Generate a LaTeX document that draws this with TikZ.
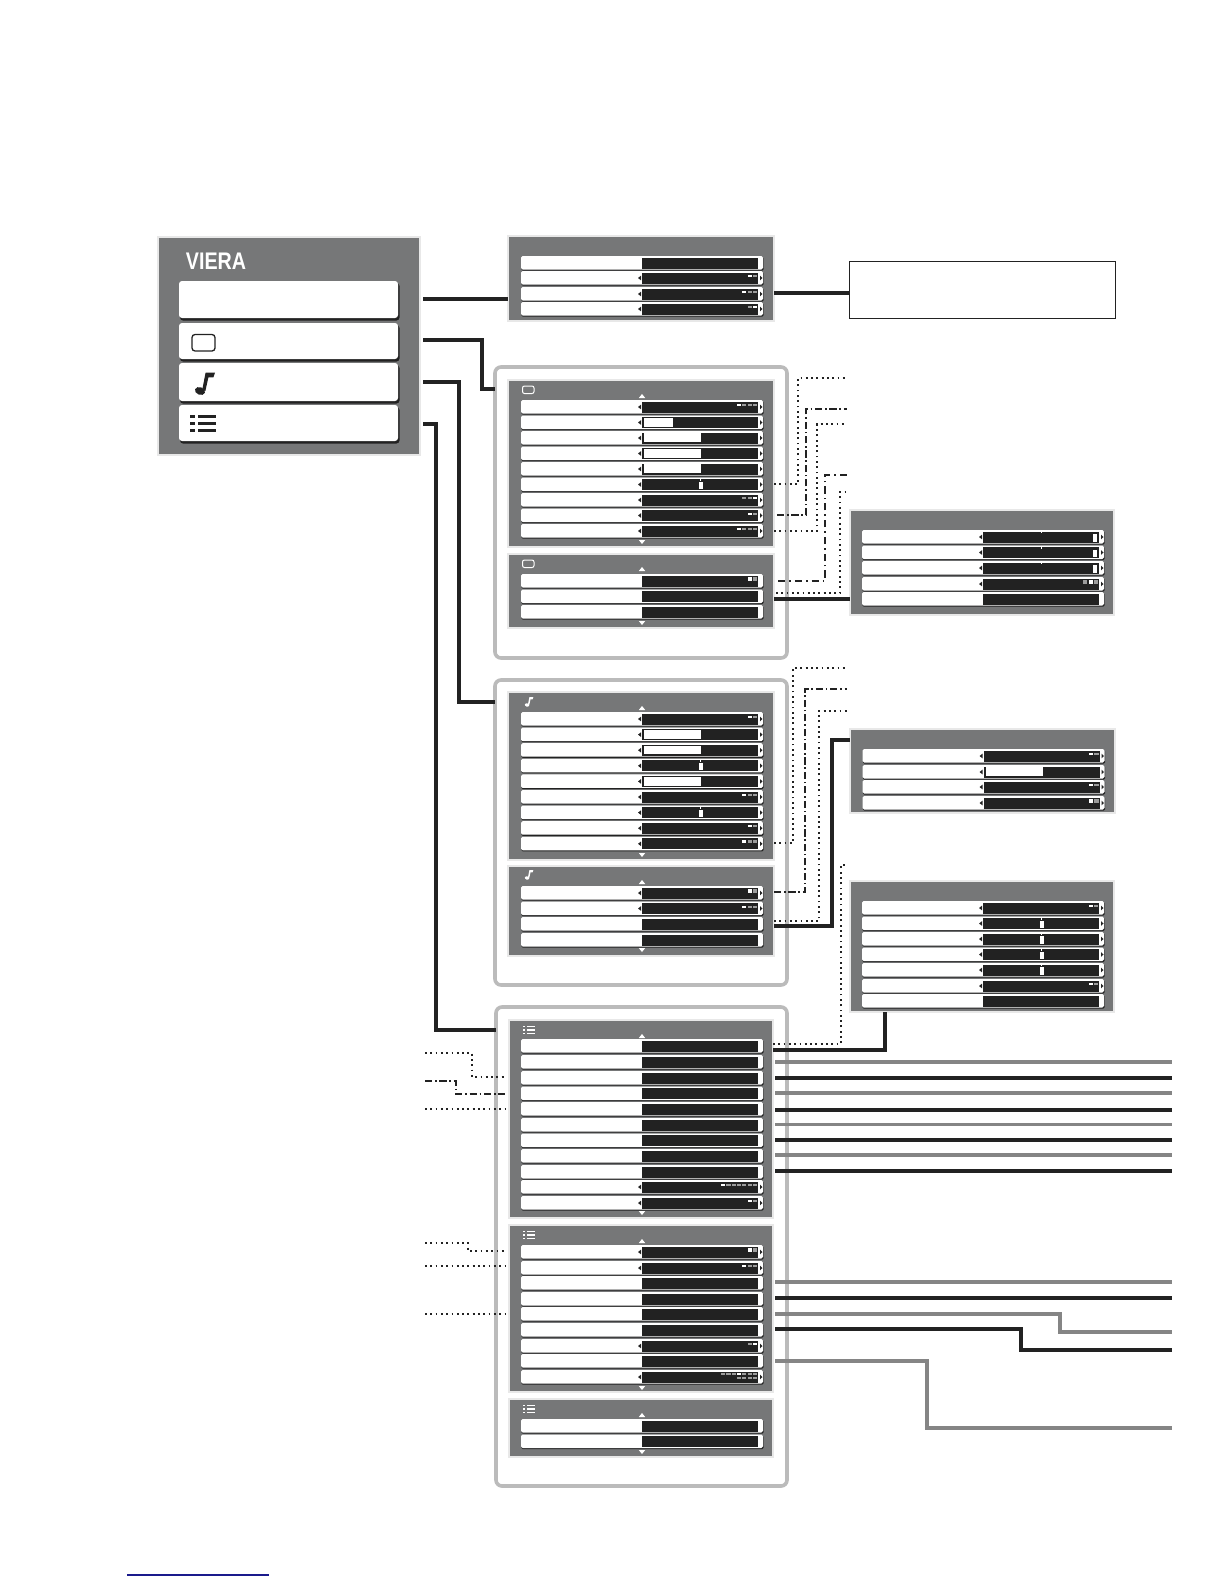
\documentclass[tikz,border=0pt]{standalone}
\usepackage{fontspec}
\setmainfont{Liberation Sans}
\definecolor{ink}{HTML}{222222}
\definecolor{midgray}{HTML}{858585}
\definecolor{panelgray}{HTML}{767778}
\definecolor{halo}{HTML}{E8E8E8}
\definecolor{framegray}{HTML}{BBBBBB}
\definecolor{seggray}{HTML}{9C9C9C}
\definecolor{navyline}{HTML}{1A1A8C}
\tikzset{
  panel/.style={rectangle,fill=panelgray,draw=halo,line width=.6pt,inner sep=0pt,outer sep=0pt},
  frame/.style={rectangle,draw=framegray,fill=white,line width=1.8pt,rounded corners=3pt,inner sep=0pt,outer sep=0pt},
  tboxstyle/.style={rectangle,draw=ink,line width=.45pt,fill=white,inner sep=0pt,outer sep=0pt},
  blackline/.style={draw=ink,line width=1.9pt,line join=miter},
  grayline/.style={draw=midgray,line width=1.9pt,line join=miter},
  dotline/.style={draw=ink,line width=.9pt,dash pattern=on .9pt off 1.75pt},
  dashdotline/.style={draw=ink,line width=1.05pt,dash pattern=on 3.6pt off 1.4pt on .8pt off 1.4pt},
  dashline/.style={draw=ink,line width=1.05pt,dash pattern=on 3.6pt off 2pt on .8pt off 2pt},
}
\newcommand{\PanelAt}[6]{%
  \pgfmathsetmacro\pwd{(#5-#3)*.5}\pgfmathsetmacro\pht{(#6-#4)*.5}%
  \node[#1,minimum width=\pwd pt,minimum height=\pht pt] (#2) at ({(#3+#5)/2},{(#4+#6)/2}) {};}
% a white row with its black field
\newcommand{\RowBox}[2]{%
  \fill[ink,rounded corners=.6pt] (#1+.5,#2+1) rectangle (#1+242.5,#2+14.6);
  \fill[white,rounded corners=.8pt] (#1,#2) rectangle (#1+242,#2+13.5);
  \fill[ink] (#1+121,#2+1.5) rectangle (#1+237,#2+12.5);}
\newcommand{\RowTris}[2]{%
  \fill[ink] (#1+117,#2+7) -- (#1+120,#2+4.7) -- (#1+120,#2+9.3) -- cycle;
  \fill[ink] (#1+241.5,#2+7) -- (#1+239,#2+4.7) -- (#1+239,#2+9.3) -- cycle;}
% n segments, k-th white
\newcommand{\RowInd}[4]{%
  \foreach \i in {1,...,#3}{%
    \pgfmathsetmacro\sx{#1+236-(#3-\i)*5.3-4.2}%
    \pgfmathtruncatemacro\isw{\i==#4 ? 1 : 0}%
    \ifnum\isw=1 \fill[white] (\sx,#2+4) rectangle (\sx+4.2,#2+6);
    \else \fill[seggray] (\sx,#2+4) rectangle (\sx+4.2,#2+6); \fi}}
\newcommand{\RowIndT}[4]{%
  \foreach \i in {1,...,#3}{%
    \pgfmathsetmacro\sx{#1+236-(#3-\i)*5.3-4.2}%
    \pgfmathtruncatemacro\isw{\i==#4 ? 1 : 0}%
    \ifnum\isw=1 \fill[white] (\sx,#2+3.3) rectangle (\sx+4.2,#2+6.5);
    \else \fill[seggray] (\sx,#2+3.3) rectangle (\sx+4.2,#2+6.5); \fi}}
\newcommand{\RowBar}[3]{\fill[white] (#1+123,#2+2.4) rectangle (#1+123+#3,#2+11.2);}
\newcommand{\RowMark}[2]{%
  \fill[white] (#1+177.5,#2+4) rectangle (#1+181.5,#2+11.5);
  \fill[white] (#1+179.2,#2+1.5) rectangle (#1+180,#2+3);}
\newcommand{\RowEnd}[2]{%
  \fill[white] (#1+231,#2+4) rectangle (#1+235,#2+11.5);
  \fill[white] (#1+179.2,#2+1.5) rectangle (#1+180,#2+3);}
\newcommand{\UpTri}[2]{\fill[white] (#1-3.2,#2+2) -- (#1+3.2,#2+2) -- (#1,#2-2) -- cycle;}
\newcommand{\DownTri}[2]{\fill[white] (#1-3.2,#2-2) -- (#1+3.2,#2-2) -- (#1,#2+2) -- cycle;}
\newcommand{\NoteIcon}[4]{%
  \begin{scope}[shift={(#1,#2)},scale=#3]
    \fill[#4,rotate=-20] (0,0) ellipse [x radius=5.2,y radius=3.8];
    \fill[#4] (2.2,-1) -- (5.6,-18.5) -- (15,-18.5) -- (13.4,-13.7) -- (8.4,-13.7) -- (5.4,0) -- cycle;
  \end{scope}}
\newcommand{\ListIcon}[4]{%
  \begin{scope}[shift={(#1,#2)},scale=#3]
    \foreach \yy in {0,7,14}{%
      \fill[#4] (0,\yy) rectangle (5,\yy+2.5);
      \fill[#4] (8,\yy) rectangle (26,\yy+2.5);}
  \end{scope}}
\begin{document}
\begin{tikzpicture}[x=.5pt,y=-.5pt]
\useasboundingbox (0,0) rectangle (1224,1584);
\fill[white] (0,0) rectangle (1224,1584);

% ---------- main menu
\PanelAt{panel}{menu}{158}{237}{420}{455}
\node[text=white,font=\bfseries\fontsize{12}{12}\selectfont,inner sep=0pt,xscale=.82] (logo) at (216,261) {VIERA};
\foreach \ya/\yb in {281/318,323/359,363/401,405/441}{%
  \fill[ink,rounded corners=1.5pt] (180,\ya+2) rectangle (399.5,\yb+2.5);
  \fill[white,rounded corners=1.5pt] (179,\ya) rectangle (398,\yb);}
\draw[ink,line width=.65pt,rounded corners=1.5pt] (192,334.5) rectangle (215,351);
\NoteIcon{200}{391}{1}{ink}
\ListIcon{190}{415}{1}{ink}

% ---------- framed groups
\PanelAt{frame}{boxB}{495}{367}{787}{658}
\PanelAt{frame}{boxC}{495}{680}{787}{985}
\PanelAt{frame}{boxD}{496}{1007}{787}{1486}

% ---------- panels
\PanelAt{panel}{pA}{508}{236}{774}{321}
\PanelAt{panel}{pBa}{508}{380}{774}{547}
\PanelAt{panel}{pBb}{508}{554}{774}{628}
\PanelAt{panel}{pCa}{508}{692}{774}{860}
\PanelAt{panel}{pCb}{508}{866}{774}{956}
\PanelAt{panel}{pDa}{509}{1020}{773}{1218}
\PanelAt{panel}{pDb}{509}{1225}{773}{1392}
\PanelAt{panel}{pDc}{509}{1399}{773}{1457}
\PanelAt{panel}{pE}{850}{510}{1114}{615}
\PanelAt{panel}{pF}{850}{729}{1115}{813}
\PanelAt{panel}{pG}{850}{881}{1114}{1012}
\PanelAt{tboxstyle}{tbox}{849}{261}{1115}{318}

% panel A
\foreach \yy in {256,271,287,302}{\RowBox{521}{\yy}}
\foreach \yy in {271,287,302}{\RowTris{521}{\yy}}
\RowInd{521}{271}{2}{1}\RowInd{521}{287}{3}{1}\RowInd{521}{302}{2}{2}

% panel Ba
\foreach \yy in {400,415.5,431,446.5,462,477.5,493,508.5,524}{\RowBox{521}{\yy}\RowTris{521}{\yy}}
\RowInd{521}{400}{4}{1}
\RowBar{521}{415.5}{29}\RowBar{521}{431}{57}\RowBar{521}{446.5}{57}\RowBar{521}{462}{57}
\RowMark{521}{477.5}\RowInd{521}{493}{3}{3}\RowInd{521}{508.5}{2}{1}\RowInd{521}{524}{4}{1}
\draw[white,line width=.5pt,rounded corners=1pt] (522.5,386) rectangle (534,393.5);
\UpTri{642}{396}\DownTri{642}{542}
% panel Bb
\foreach \yy in {574,589.5,605}{\RowBox{521}{\yy}}
\RowIndT{521}{574}{2}{1}
\draw[white,line width=.5pt,rounded corners=1pt] (522.5,560) rectangle (534,567.5);
\UpTri{642}{569}\DownTri{642}{623}

% panel Ca
\foreach \yy in {712,727.6,743.2,758.8,774.4,790,805.6,821.2,836.8}{\RowBox{521}{\yy}\RowTris{521}{\yy}}
\RowInd{521}{712}{2}{1}\RowBar{521}{727.6}{57}\RowBar{521}{743.2}{57}\RowMark{521}{758.8}
\RowBar{521}{774.4}{57}\RowInd{521}{790}{3}{1}\RowMark{521}{805.6}\RowInd{521}{821.2}{2}{1}\RowIndT{521}{836.8}{3}{1}
\NoteIcon{527}{705}{.42}{white}
\UpTri{642}{708}\DownTri{642}{855}
% panel Cb
\foreach \yy in {886,901.5,917,933}{\RowBox{521}{\yy}}
\foreach \yy in {886,901.5}{\RowTris{521}{\yy}}
\RowIndT{521}{886}{2}{1}\RowInd{521}{901.5}{3}{1}
\NoteIcon{527}{878}{.42}{white}
\UpTri{642}{882}\DownTri{642}{950}

% panel Da
\foreach \yy in {1039,1055,1071,1086.5,1102,1118,1133.5,1149,1165,1180,1196}{\RowBox{521}{\yy}}
\foreach \yy in {1180,1196}{\RowTris{521}{\yy}}
\RowInd{521}{1180}{7}{1}\RowInd{521}{1196}{2}{1}
\ListIcon{523}{1026}{.48}{white}
\UpTri{642}{1036}\DownTri{642}{1213}
% panel Db
\foreach \yy in {1245,1261,1276,1292,1307,1323,1339,1354,1370}{\RowBox{521}{\yy}}
\foreach \yy in {1245,1261,1339,1370}{\RowTris{521}{\yy}}
\RowIndT{521}{1245}{2}{1}\RowInd{521}{1261}{3}{1}\RowInd{521}{1339}{2}{2}
\RowInd{521}{1369}{7}{4}\RowInd{521}{1373}{4}{0}
\ListIcon{523}{1231}{.48}{white}
\UpTri{642}{1241}\DownTri{642}{1388}
% panel Dc
\foreach \yy in {1419,1434.5}{\RowBox{521}{\yy}}
\ListIcon{523}{1405}{.48}{white}
\UpTri{642}{1415}\DownTri{642}{1452}

% panel E
\foreach \yy in {530,545.5,561,577,592}{\RowBox{862}{\yy}}
\foreach \yy in {530,545.5,561,577}{\RowTris{862}{\yy}}
\RowEnd{862}{530}\RowEnd{862}{545.5}\RowEnd{862}{561}\RowIndT{862}{577}{3}{2}
% panel F
\foreach \yy in {749,765,780,796}{\RowBox{862.5}{\yy}\RowTris{862.5}{\yy}}
\RowInd{862.5}{749}{2}{1}\RowBar{862.5}{765}{57}\RowInd{862.5}{780}{2}{1}\RowIndT{862.5}{796}{2}{1}
% panel G
\foreach \yy in {901,916.5,932,947.5,963,979,994}{\RowBox{862}{\yy}}
\foreach \yy in {901,916.5,932,947.5,963,979}{\RowTris{862}{\yy}}
\RowInd{862}{901}{2}{1}\RowMark{862}{916.5}\RowMark{862}{932}\RowMark{862}{947.5}\RowMark{862}{963}\RowInd{862}{979}{2}{1}

% ---------- free ends of connectors
\coordinate (endBa) at (847,378);
\coordinate (endBb) at (847,409);
\coordinate (endBc) at (847,424);
\coordinate (endBd) at (847,475);
\coordinate (endBe) at (847,492);
\coordinate (endCa) at (847,668);
\coordinate (endCb) at (847,689);
\coordinate (endCc) at (847,711);
\coordinate (endCd) at (847,865);
\coordinate (startLa) at (425,1053);
\coordinate (endLa)   at (505,1077);
\coordinate (startLb) at (425,1081);
\coordinate (endLb)   at (505,1094);
\coordinate (startLc) at (425,1109);
\coordinate (endLc)   at (505,1109);
\coordinate (startLd) at (425,1243);
\coordinate (endLd)   at (505,1251);
\coordinate (startLe) at (425,1266);
\coordinate (endLe)   at (505,1266);
\coordinate (startLf) at (425,1314);
\coordinate (endLf)   at (505,1314);
\foreach \nm/\yy in {Ra/1062,Rb/1078,Rc/1093,Rd/1110,Re/1124.5,Rf/1140,Rg/1155,Rh/1171,Ri/1282,Rj/1298,Rk/1332,Rl/1350,Rm/1428}{%
  \coordinate (\nm) at (1172,\yy);}

% ---------- solid connectors
\draw[blackline] (menu.east |- 0,299) ++(3,0) -- (pA.west |- 0,299);
\draw[blackline] (423,340) -| (482,389) -- (boxB.west |- 0,389);
\draw[blackline] (423,382) -| (459,702) -- (boxC.west |- 0,702);
\draw[blackline] (423,424) -| (436,1030) -- (boxD.west |- 0,1030);
\draw[blackline] (pA.east |- 0,293) -- (tbox.west |- 0,293);
\draw[blackline] (pBb.east |- 0,599) -- (pE.west |- 0,599);
\draw[blackline] (pCb.east |- 0,926) -| (832,740) -- (pF.west |- 0,740);
\draw[blackline] (pDa.east |- 0,1050) -| (pG.south -| 885,0);

% ---------- dotted and dashed connectors
\draw[dotline] (pBa.east |- 0,484) -| (798,378) -- (endBa);
\draw[dashdotline] (pBa.east |- 0,515) ++(3,0) -| (806,409) -- (endBb);
\draw[dotline] (pBa.east |- 0,531) -| (817,424) -- (endBc);
\draw[dashline] (pBb.east |- 0,581) ++(4,0) -| (825,475) -- (endBd);
\draw[dotline] (pBb.east |- 0,593) ++(2,0) -| (840,492) -- (endBe);
\draw[dotline] (pCa.east |- 0,843) -| (793,668) -- (endCa);
\draw[dashdotline] (pCb.east |- 0,892) -| (805,689) -- (endCb);
\draw[dotline] (pCb.east |- 0,921) -| (819,711) -- (endCc);
\draw[dotline] (pDa.east |- 0,1044) -| (841,865) -- (endCd);
\draw[dotline] (startLa) -| (472,1077) -- (endLa);
\draw[dashdotline] (startLb) -| (456,1094) -- (endLb);
\draw[dotline] (startLc) -- (endLc);
\draw[dotline] (startLd) -| (468,1251) -- (endLd);
\draw[dotline] (startLe) -- (endLe);
\draw[dotline] (startLf) -- (endLf);

% ---------- lines running off to the right
\draw[grayline]  (pDa.east |- Ra) ++(2,0) -- (Ra);
\draw[blackline] (pDa.east |- Rb) ++(2,0) -- (Rb);
\draw[grayline]  (pDa.east |- Rc) ++(2,0) -- (Rc);
\draw[blackline] (pDa.east |- Rd) ++(2,0) -- (Rd);
\draw[grayline,line width=1.45pt]  (pDa.east |- Re) ++(2,0) -- (Re);
\draw[blackline,line width=1.55pt] (pDa.east |- Rf) ++(2,0) -- (Rf);
\draw[grayline]  (pDa.east |- Rg) ++(2,0) -- (Rg);
\draw[blackline] (pDa.east |- Rh) ++(2,0) -- (Rh);
\draw[grayline]  (pDb.east |- Ri) ++(2,0) -- (Ri);
\draw[blackline] (pDb.east |- Rj) ++(2,0) -- (Rj);
\draw[grayline]  (pDb.east |- 0,1314) ++(2,0) -| (1060,1332) -- (Rk);
\draw[blackline] (pDb.east |- 0,1329) ++(2,0) -| (1021,1350) -- (Rl);
\draw[grayline]  (pDb.east |- 0,1361) ++(2,0) -| (927,1428) -- (Rm);

% ---------- rule at the foot of the page
\draw[navyline,line width=.55pt] (127,1575) -- (269,1575);
\end{tikzpicture}
\end{document}
